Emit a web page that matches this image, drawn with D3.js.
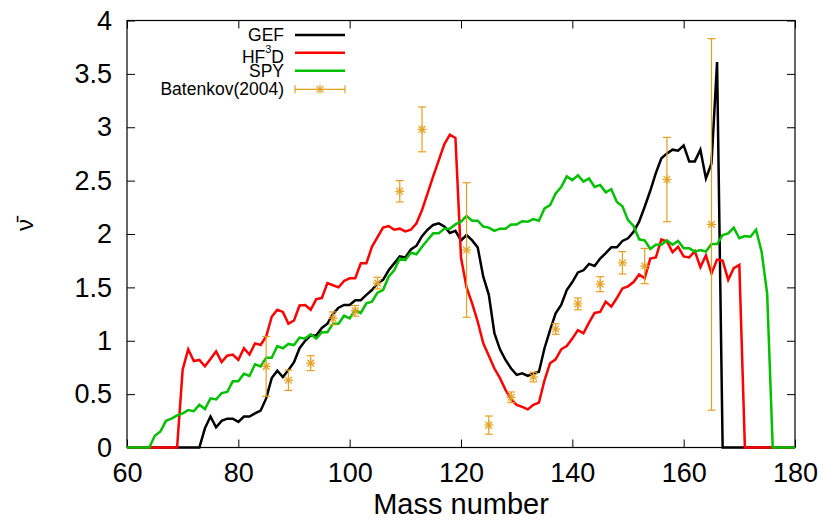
<!DOCTYPE html>
<html>
<head>
<meta charset="utf-8">
<script src="https://cdn.jsdelivr.net/npm/d3@7"></script>
<style>
  html, body { margin: 0; padding: 0; background: #fff; }
  svg { display: block; }
  text { font-family: "Liberation Sans", Arial, Helvetica, sans-serif; fill: #000; }
</style>
</head>
<body>
<svg id="chart" width="827" height="525"></svg>
<script>
// ---------------- data ----------------
const massStart = 60;   // first mass number of each series below (step 1)
const gefValues = [
  0,0,0,0,0,0,0,0,0,0,            // 60-69
  0,0,0,0,0.18,0.29,0.19,0.25,0.27,0.27, // 70-79
  0.24,0.29,0.29,0.32,0.345,0.46,0.65,0.72,0.66,0.725, // 80-89
  0.80,0.93,1.00,1.05,1.05,1.12,1.16,1.25,1.31,1.335, // 90-99
  1.335,1.38,1.38,1.43,1.475,1.54,1.57,1.66,1.725,1.79, // 100-109
  1.78,1.855,1.89,1.98,2.04,2.085,2.10,2.07,2.01,2.03, // 110-119
  1.94,1.99,1.94,1.875,1.60,1.43,1.07,0.92,0.82,0.74, // 120-129
  0.68,0.695,0.67,0.695,0.71,0.93,1.10,1.257,1.335,1.475, // 130-139
  1.55,1.64,1.66,1.72,1.70,1.77,1.82,1.875,1.875,1.935, // 140-149
  1.96,2.02,2.115,2.255,2.405,2.57,2.71,2.755,2.79,2.78, // 150-159
  2.83,2.68,2.68,2.79,2.52,2.66,3.61,0,0,0, // 160-169
  0,0,0,0,0,0,0,0,0,0,0 // 170-180
];
const hf3dValues = [
  0,0,0,0,0,0,0,0,0,0, // 60-69
  0.73,0.92,0.81,0.82,0.76,0.83,0.90,0.80,0.86,0.87, // 70-79
  0.82,0.93,0.87,0.975,0.96,1.04,1.225,1.29,1.27,1.16, // 80-89
  1.19,1.33,1.335,1.29,1.39,1.40,1.54,1.52,1.50,1.56, // 90-99
  1.585,1.585,1.725,1.725,1.88,1.97,2.06,2.075,2.04,2.05, // 100-109
  2.025,2.04,2.10,2.225,2.38,2.54,2.69,2.84,2.93,2.90, // 110-119
  1.78,1.50,1.35,1.18,0.976,0.86,0.74,0.65,0.54,0.45, // 120-129
  0.40,0.38,0.357,0.40,0.42,0.63,0.79,0.826,0.92,0.95, // 130-139
  1.02,1.10,1.07,1.17,1.26,1.27,1.366,1.32,1.40,1.49, // 140-149
  1.51,1.55,1.62,1.585,1.77,1.78,1.95,1.93,1.83,1.88, // 150-159
  1.79,1.78,1.84,1.69,1.80,1.63,1.76,1.75,1.57,1.68, // 160-169
  1.71,0,0,0,0,0,0,0,0,0,0 // 170-180
];
const spyValues = [
  0,0,0,0,0,0.11,0.15,0.25,0.27,0.30, // 60-69
  0.32,0.35,0.34,0.40,0.36,0.46,0.45,0.51,0.52,0.62, // 70-79
  0.62,0.69,0.67,0.78,0.76,0.84,0.84,0.95,0.93,0.97, // 80-89
  0.96,1.03,1.02,1.06,1.02,1.08,1.08,1.16,1.16,1.235, // 90-99
  1.21,1.29,1.26,1.35,1.366,1.45,1.475,1.60,1.66,1.77, // 100-109
  1.756,1.825,1.81,1.88,1.944,2.006,2.006,2.05,2.05,2.09, // 110-119
  2.115,2.17,2.125,2.125,2.07,2.06,2.03,2.05,2.05,2.09, // 120-129
  2.09,2.12,2.115,2.14,2.125,2.24,2.27,2.38,2.44,2.54, // 130-139
  2.505,2.55,2.49,2.52,2.44,2.46,2.39,2.42,2.30,2.26, // 140-149
  2.13,2.075,1.95,1.94,1.86,1.90,1.90,1.94,1.90,1.935, // 150-159
  1.866,1.866,1.835,1.85,1.835,1.906,1.906,1.99,2.006,2.06, // 160-169
  1.96,1.98,1.975,2.04,1.835,1.44,0,0,0,0,0 // 170-180
];
const batMass  = [85,89,93,97,101,105,109,113,121,125,129,133,137,141,145,149,153,157,165];
const batValue = [0.76,0.63,0.79,1.21,1.28,1.54,2.40,2.98,1.85,0.21,0.47,0.66,1.11,1.345,1.53,1.73,1.70,2.51,2.09];
const batError = [0.28,0.095,0.07,0.06,0.05,0.055,0.10,0.21,0.63,0.085,0.05,0.045,0.05,0.055,0.07,0.105,0.165,0.395,1.74];

const xTickValues = [60,80,100,120,140,160,180];
const xTickLabels = ["60","80","100","120","140","160","180"];
const yTickValues = [0,0.5,1,1.5,2,2.5,3,3.5,4];
const yTickLabels = ["0","0.5","1","1.5","2","2.5","3","3.5","4"];

const seriesNames = ["GEF","HF3D","SPY","Batenkov(2004)"];
const colors = { GEF: "#000000", HF3D: "#ff0000", SPY: "#00c000", BAT: "#e6a020" };

// ---------------- drawing ----------------
const svg = d3.select("#chart");
const L = 127, R = 795, T = 20.5, B = 447.5;
const x = d3.scaleLinear().domain([60,180]).range([L,R]);
const y = d3.scaleLinear().domain([0,4]).range([B,T]);

const toPts = vals => vals.map((v,i) => [massStart + i, v]);
const line = d3.line().x(d => x(d[0])).y(d => y(d[1]));

// axes (ticks inward, mirrored)
const fs = 27;
const gx = svg.append("g").attr("transform",`translate(0,${B})`)
  .call(d3.axisBottom(x).tickValues(xTickValues).tickSize(-8).tickPadding(15)
        .tickFormat((d,i) => xTickLabels[i]));
const gy = svg.append("g").attr("transform",`translate(${L},0)`)
  .call(d3.axisLeft(y).tickValues(yTickValues).tickSize(-8).tickPadding(15)
        .tickFormat((d,i) => yTickLabels[i]));
const gt = svg.append("g").attr("transform",`translate(0,${T})`)
  .call(d3.axisTop(x).tickValues(xTickValues).tickSize(-8).tickFormat(""));
const gr = svg.append("g").attr("transform",`translate(${R},0)`)
  .call(d3.axisRight(y).tickValues(yTickValues).tickSize(-8).tickFormat(""));
[gx,gy,gt,gr].forEach(g => {
  g.select(".domain").remove();
  g.selectAll(".tick line").attr("stroke","#000").attr("stroke-width",1);
  g.selectAll("text").attr("font-size",fs).attr("font-family",'"Liberation Sans", Arial, sans-serif').attr("fill","#000");
});

// border
svg.append("rect").attr("x",L).attr("y",T).attr("width",R-L).attr("height",B-T)
  .attr("fill","none").attr("stroke","#000").attr("stroke-width",1.2);

// curves
const clip = svg.append("clipPath").attr("id","clip").append("rect")
  .attr("x",L-2).attr("y",T).attr("width",R-L+4).attr("height",B-T+2);
const curves = svg.append("g").attr("clip-path","url(#clip)");
[[gefValues,colors.GEF],[hf3dValues,colors.HF3D],[spyValues,colors.SPY]].forEach(([vals,c]) => {
  curves.append("path").attr("d", line(toPts(vals)))
    .attr("fill","none").attr("stroke",c).attr("stroke-width",2.5)
    .attr("stroke-linejoin","miter").attr("stroke-linecap","butt");
});

// Batenkov points with error bars
const bat = svg.append("g").attr("stroke",colors.BAT).attr("stroke-width",1.2).attr("fill","none");
const cap = 4, star = 4.5;
function drawStar(g, cx, cy) {
  g.append("line").attr("x1",cx-star).attr("x2",cx+star).attr("y1",cy).attr("y2",cy);
  g.append("line").attr("x1",cx).attr("x2",cx).attr("y1",cy-star).attr("y2",cy+star);
  const s = star*0.75;
  g.append("line").attr("x1",cx-s).attr("x2",cx+s).attr("y1",cy-s).attr("y2",cy+s);
  g.append("line").attr("x1",cx-s).attr("x2",cx+s).attr("y1",cy+s).attr("y2",cy-s);
}
batMass.forEach((m,i) => {
  const cx = x(m), lo = y(batValue[i]-batError[i]), hi = y(batValue[i]+batError[i]);
  const g = bat.append("g");
  g.append("line").attr("x1",cx).attr("x2",cx).attr("y1",lo).attr("y2",hi);
  g.append("line").attr("x1",cx-cap).attr("x2",cx+cap).attr("y1",lo).attr("y2",lo);
  g.append("line").attr("x1",cx-cap).attr("x2",cx+cap).attr("y1",hi).attr("y2",hi);
  drawStar(g, cx, y(batValue[i]));
});

// legend
const lg = svg.append("g");
const rows = [35, 52.7, 70.7, 89.3];
const textX = 284, lx1 = 295, lx2 = 345, lfs = 17.5;
const lcolors = [colors.GEF, colors.HF3D, colors.SPY];
seriesNames.forEach((name,i) => {
  if (name === "HF3D") {
    const t = lg.append("text").attr("x",textX).attr("y",rows[i] + 10.5)
      .attr("text-anchor","end").attr("font-size",lfs);
    t.append("tspan").text("HF");
    t.append("tspan").attr("font-size",11).attr("dy",-10.5).text("3");
    t.append("tspan").attr("font-size",lfs).attr("dy",10.5).text("D");
  } else {
    lg.append("text").attr("x",textX).attr("y",rows[i]).attr("dy","0.35em")
      .attr("text-anchor","end").attr("font-size",lfs).text(name);
  }
  if (i < 3) {
    lg.append("line").attr("x1",lx1).attr("x2",lx2).attr("y1",rows[i]).attr("y2",rows[i])
      .attr("stroke",lcolors[i]).attr("stroke-width",2.5);
  } else {
    const g = lg.append("g").attr("stroke",colors.BAT).attr("stroke-width",1.2);
    g.append("line").attr("x1",lx1).attr("x2",lx2).attr("y1",rows[i]).attr("y2",rows[i]);
    g.append("line").attr("x1",lx1).attr("x2",lx1).attr("y1",rows[i]-cap).attr("y2",rows[i]+cap);
    g.append("line").attr("x1",lx2).attr("x2",lx2).attr("y1",rows[i]-cap).attr("y2",rows[i]+cap);
    drawStar(g, (lx1+lx2)/2, rows[i]);
  }
});

// axis titles
svg.append("text").attr("x",(L+R)/2).attr("y",514).attr("text-anchor","middle")
  .attr("font-size",29).text("Mass number");
svg.append("text").attr("transform","translate(33,225) rotate(-90)")
  .attr("text-anchor","middle").attr("font-size",24).text("\u03BD\u0304");
</script>
</body>
</html>
